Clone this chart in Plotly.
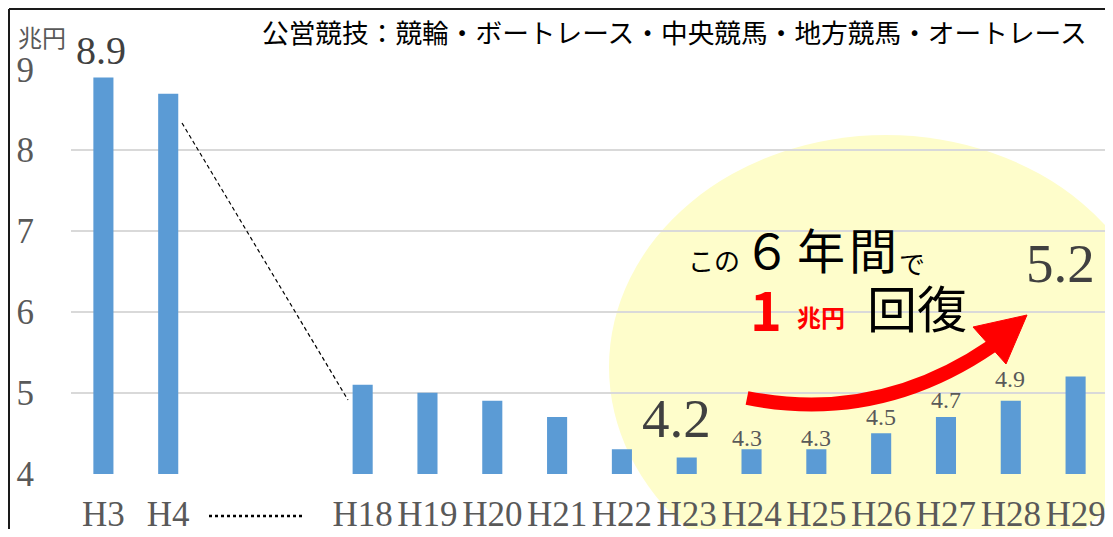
import plotly.graph_objects as go

# ---------------- data ----------------
categories = ["H3", "H4", " ", "  ", "H18", "H19", "H20", "H21", "H22",
              "H23", "H24", "H25", "H26", "H27", "H28", "H29"]
values = [8.9, 8.7, None, None, 5.1, 5.0, 4.9, 4.7, 4.3,
          4.2, 4.3, 4.3, 4.5, 4.7, 4.9, 5.2]
y_ticks = [4, 5, 6, 7, 8, 9]
labelled = ["H3", "H23", "H24", "H25", "H26", "H27", "H28", "H29"]

title_text = "公営競技：競輪・ボートレース・中央競馬・地方競馬・オートレース"
unit_text = "兆円"

# ---------------- layout geometry (viewport pixels) ----------------
VIEW_W, VIEW_H = 1113, 537
OFF = 8                       # page body margin
FIG_W, FIG_H = VIEW_W - OFF, VIEW_H - 2 * OFF
L, R, T, B = 71, 1108, 69, 474  # plot area in viewport pixels
PW, PH = R - L, B - T


def px(xp):
    return (xp - L) / PW


def py(yp):
    return (B - yp) / PH


BAR = "#5B9BD5"
GRID = "#D9D9D9"
TICK = "#595959"
BIG = "#404040"
SERIF = "Liberation Serif"
SANS = "Noto Sans CJK JP"

fig = go.Figure()
fig.add_trace(go.Bar(
    x=categories, y=values, marker=dict(color=BAR, line=dict(width=0)),
    hoverinfo="skip", showlegend=False,
))

# label styles: (size, color, xshift, yshift)
label_style = {
    "H3": (40, BIG, -2, 27),
    "H23": (55, BIG, -10, 39),
    "H24": (24, TICK, -5, 11),
    "H25": (24, TICK, 0, 11),
    "H26": (24, TICK, 0, 16),
    "H27": (24, TICK, 0, 17.5),
    "H28": (24, TICK, -1, 21.5),
    "H29": (55, BIG, -15, 113),
}
annotations = []
for c in labelled:
    v = values[categories.index(c)]
    size, col, xs, ys = label_style[c]
    annotations.append(dict(
        x=c, y=v, xref="x", yref="y", text=f"{v:.1f}", showarrow=False,
        xanchor="center", yanchor="middle", xshift=xs, yshift=ys,
        font=dict(family=SERIF, size=size, color=col),
    ))

# title and unit
annotations.append(dict(x=px(674), y=py(32), xref="paper", yref="paper",
                        text=title_text, showarrow=False,
                        xanchor="center", yanchor="middle",
                        font=dict(family=SANS, size=26.7, color="#000000")))
annotations.append(dict(x=px(42), y=py(36), xref="paper", yref="paper",
                        text=unit_text, showarrow=False,
                        xanchor="center", yanchor="middle",
                        font=dict(family=SANS, size=24, color=TICK)))

# callout text
callout = [
    ("この", 714, 259, 26, "#000000", False),
    ("６", 767, 248, 48, "#000000", False),
    ("年", 821, 248, 48, "#000000", False),
    ("間", 873, 248, 48, "#000000", False),
    ("で", 912, 263, 26, "#000000", False),
    ("1", 766, 307, 54, "#FF0000", True),
    ("兆円", 821, 316, 24, "#FF0000", True),
    ("回復", 917, 306, 50, "#000000", False),
]
for t, xx, yy, s, col, bold in callout:
    annotations.append(dict(
        x=px(xx), y=py(yy), xref="paper", yref="paper",
        text=f"<b>{t}</b>" if bold else t, showarrow=False,
        xanchor="center", yanchor="middle",
        font=dict(family=SANS, size=s, color=col),
    ))

shapes = []
# yellow ellipse
cx, cy, rx, ry = 886, 367, 277, 232
shapes.append(dict(type="circle", xref="paper", yref="paper",
                   x0=px(cx - rx), x1=px(cx + rx), y0=py(cy + ry), y1=py(cy - ry),
                   fillcolor="#FEFDCB", line=dict(width=0), layer="below"))
# dashed diagonal
shapes.append(dict(type="line", xref="paper", yref="paper",
                   x0=px(182), y0=py(123), x1=px(348), y1=py(400),
                   line=dict(color="#000000", width=1.2, dash="4px,3px"),
                   layer="above"))
# dotted gap mark under axis
shapes.append(dict(type="line", xref="paper", yref="paper",
                   x0=px(209), y0=py(516), x1=px(302), y1=py(516),
                   line=dict(color="#000000", width=2.5, dash="dot")))
# red curved arrow body
p0, c0, p2 = (747, 398), (878, 424), (992, 346)
path = (f"M {px(p0[0])} {py(p0[1])} Q {px(c0[0])} {py(c0[1])} "
        f"{px(p2[0])} {py(p2[1])}")
shapes.append(dict(type="path", xref="paper", yref="paper", path=path,
                   line=dict(color="#FF0000", width=14), layer="above"))
# arrow head
head = [(973, 327), (1027, 315), (1006, 364)]
hp = "M " + " L ".join(f"{px(a)} {py(b)}" for a, b in head) + " Z"
shapes.append(dict(type="path", xref="paper", yref="paper", path=hp,
                   fillcolor="#FF0000", line=dict(color="#FF0000", width=1),
                   layer="above"))
# outer frame (top and left)
shapes.append(dict(type="line", xref="paper", yref="paper",
                   x0=px(9), y0=py(9), x1=px(1113), y1=py(9),
                   line=dict(color="#1a1a1a", width=2)))
shapes.append(dict(type="line", xref="paper", yref="paper",
                   x0=px(9), y0=py(9), x1=px(9), y1=py(540),
                   line=dict(color="#1a1a1a", width=2)))

fig.update_layout(
    width=FIG_W, height=FIG_H, autosize=False,
    margin=dict(l=L - OFF, r=OFF + FIG_W - R, t=T - OFF, b=OFF + FIG_H - B, pad=0),
    paper_bgcolor="white", plot_bgcolor="rgba(0,0,0,0)",
    bargap=0.69, showlegend=False,
    annotations=annotations, shapes=shapes,
    xaxis=dict(type="category", categoryorder="array", categoryarray=categories,
               showgrid=False, showline=False, zeroline=False, ticks="",
               tickfont=dict(family=SERIF, size=35, color=TICK),
               ticklabelstandoff=16, automargin=False, fixedrange=True),
    yaxis=dict(range=[3.995, 9.005], tickvals=y_ticks, showgrid=True,
               gridcolor=GRID, gridwidth=2, zeroline=False, showline=False,
               ticks="", tickfont=dict(family=SERIF, size=35, color=TICK),
               ticklabelstandoff=36, automargin=False, fixedrange=True),
)

fig.write_html("out.html")
